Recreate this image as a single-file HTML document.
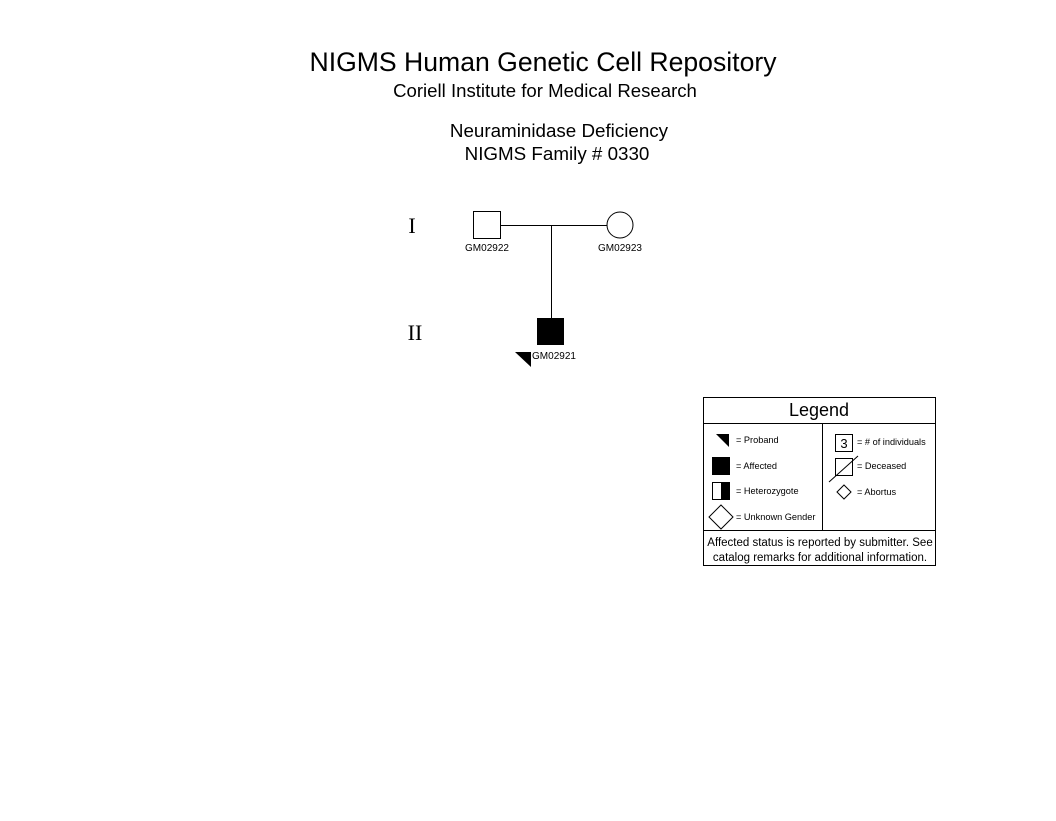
<!DOCTYPE html>
<html><head><style>
body{margin:0;width:1056px;height:816px;background:#fff;overflow:hidden;font-family:"Liberation Sans",sans-serif}
</style></head><body>
<svg width="1056" height="816" viewBox="0 0 1056 816" xmlns="http://www.w3.org/2000/svg" font-family="Liberation Sans, sans-serif">
<text x="543" y="71" font-size="26.6" text-anchor="middle">NIGMS Human Genetic Cell Repository</text>
<text x="545" y="97" font-size="18.6" text-anchor="middle">Coriell Institute for Medical Research</text>
<text x="559" y="137" font-size="18.8" text-anchor="middle">Neuraminidase Deficiency</text>
<text x="557" y="160" font-size="18.8" text-anchor="middle">NIGMS Family # 0330</text>
<text x="412" y="233" font-size="22" font-family="Liberation Serif, serif" text-anchor="middle">I</text>
<text x="415" y="340" font-size="22" font-family="Liberation Serif, serif" text-anchor="middle">II</text>
<g stroke="#000" stroke-width="1" fill="none">
<rect x="473.5" y="211.5" width="27" height="27" fill="#fff"/>
<circle cx="620" cy="225" r="13" fill="#fff"/>
<line x1="500" y1="225.5" x2="607" y2="225.5"/>
<line x1="551.5" y1="225" x2="551.5" y2="318"/>
</g>
<rect x="537" y="318" width="27" height="27" fill="#000"/>
<polygon points="515,352 531,352 531,367" fill="#000"/>
<g font-size="10" text-anchor="middle">
<text x="487" y="251">GM02922</text>
<text x="620" y="251">GM02923</text>
<text x="554" y="359">GM02921</text>
</g>
<g stroke="#000" fill="none">
<rect x="703.5" y="397.5" width="232" height="168"/>
<line x1="703" y1="423.5" x2="936" y2="423.5"/>
<line x1="703" y1="530.5" x2="936" y2="530.5"/>
<line x1="822.5" y1="423" x2="822.5" y2="530"/>
<rect x="712.5" y="482.5" width="17" height="17"/>
<polygon points="721,505 733,517 721,529 709,517" fill="#fff"/>
<rect x="835.5" y="434.5" width="17" height="17"/>
<rect x="835.5" y="458.5" width="17" height="17"/>
<line x1="829" y1="482" x2="858" y2="456"/>
<polygon points="844,485 851,492 844,499 837,492"/>
</g>
<polygon points="716,434 729,434 729,447" fill="#000"/>
<rect x="712" y="457" width="18" height="18" fill="#000"/>
<rect x="721" y="482" width="9" height="18" fill="#000"/>
<text x="819" y="416" font-size="18" text-anchor="middle">Legend</text>
<g font-size="9.2">
<text x="736" y="443">= Proband</text>
<text x="736" y="469">= Affected</text>
<text x="736" y="494">= Heterozygote</text>
<text x="736" y="520">= Unknown Gender</text>
<text x="857" y="445">= # of individuals</text>
<text x="857" y="469">= Deceased</text>
<text x="857" y="495">= Abortus</text>
</g>
<text x="844" y="448" font-size="13" text-anchor="middle">3</text>
<text x="820" y="546" font-size="11.5" text-anchor="middle">Affected status is reported by submitter. See</text>
<text x="820" y="561" font-size="11.5" text-anchor="middle">catalog remarks for additional information.</text>
</svg>
</body></html>
